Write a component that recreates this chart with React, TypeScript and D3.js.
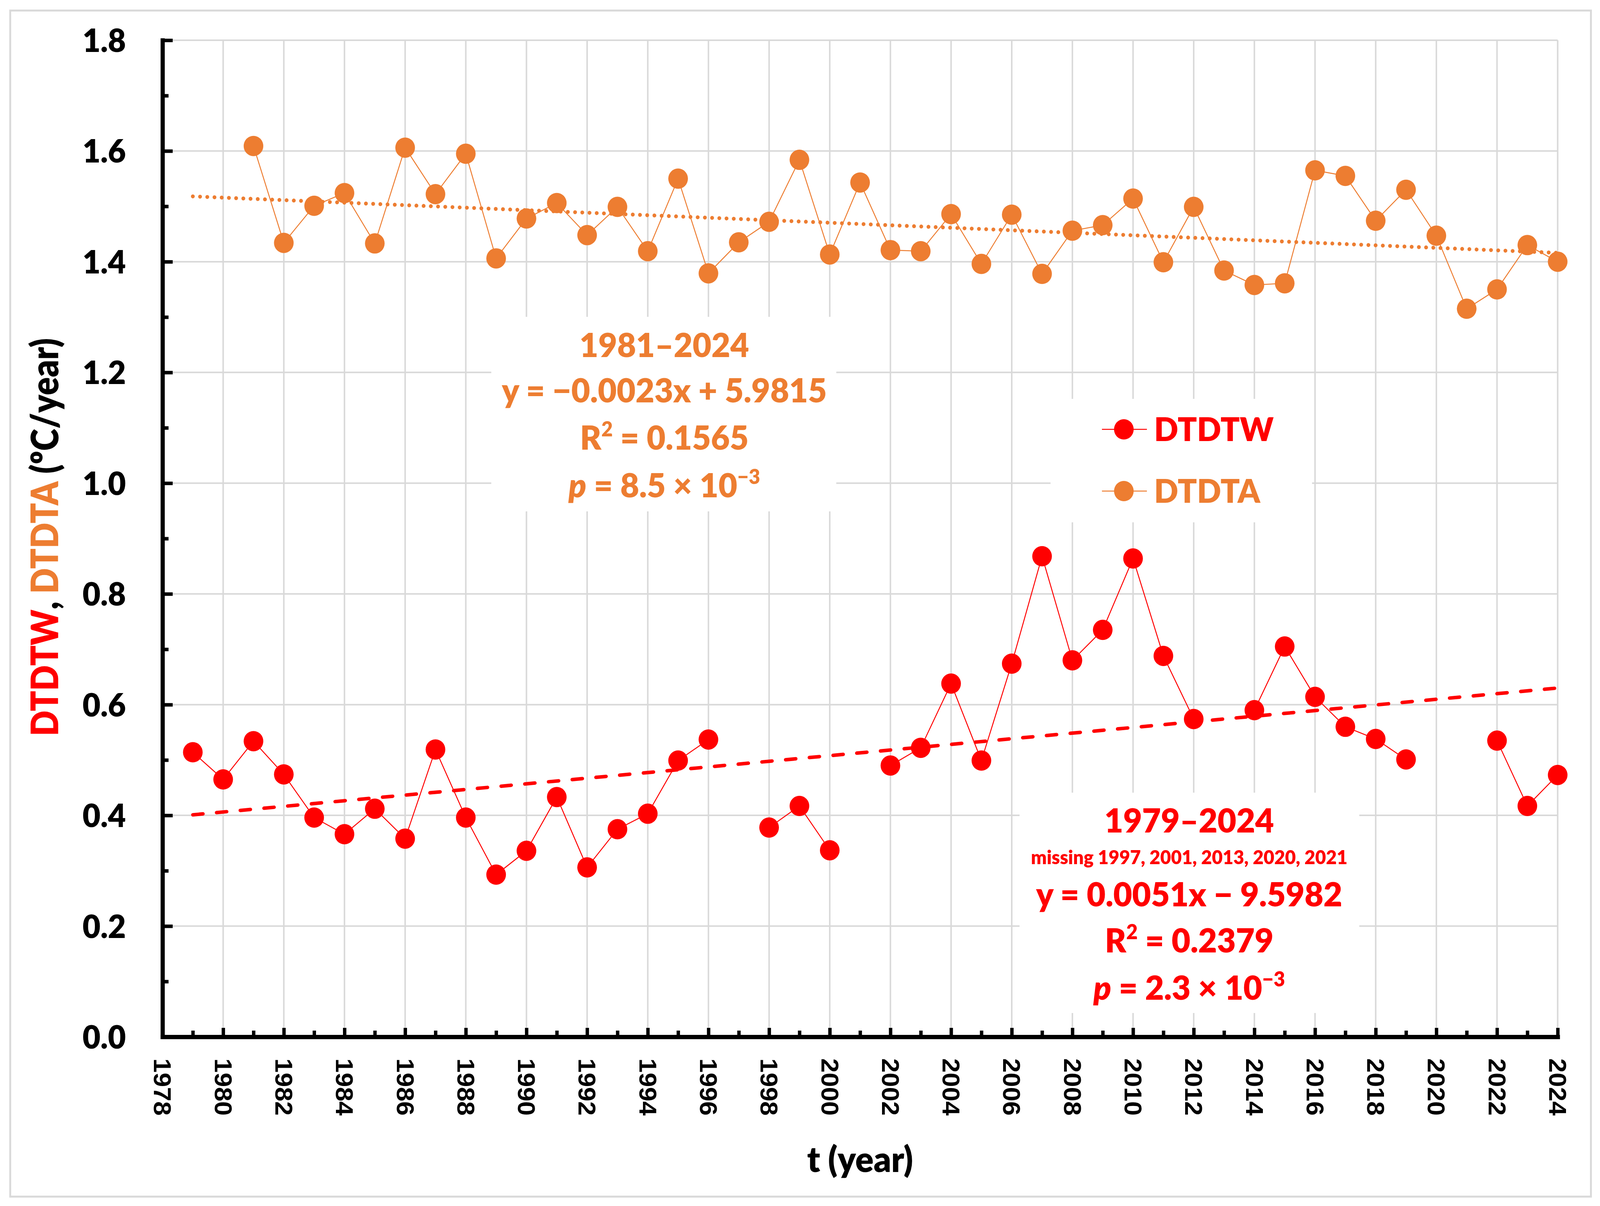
import React, { useEffect, useRef } from 'react';
import * as d3 from 'd3';

// ---- data ----
const years = [
  1979, 1980, 1981, 1982, 1983, 1984, 1985, 1986, 1987, 1988, 1989, 1990,
  1991, 1992, 1993, 1994, 1995, 1996, 1997, 1998, 1999, 2000, 2001, 2002,
  2003, 2004, 2005, 2006, 2007, 2008, 2009, 2010, 2011, 2012, 2013, 2014,
  2015, 2016, 2017, 2018, 2019, 2020, 2021, 2022, 2023, 2024,
];

// DTDTW, missing 1997, 2001, 2013, 2020, 2021
const dtdtw: (number | null)[] = [
  0.514, 0.465, 0.534, 0.474, 0.396, 0.366, 0.412, 0.358, 0.519, 0.396, 0.293, 0.336,
  0.433, 0.306, 0.375, 0.403, 0.499, 0.537, null, 0.378, 0.417, 0.337, null, 0.490,
  0.522, 0.638, 0.499, 0.674, 0.868, 0.680, 0.735, 0.864, 0.688, 0.574, null, 0.590,
  0.705, 0.614, 0.560, 0.538, 0.501, null, null, 0.535, 0.417, 0.473,
];

// DTDTA, starts 1981
const dtdta: (number | null)[] = [
  null, null, 1.609, 1.434, 1.501, 1.524, 1.433, 1.606, 1.522, 1.595, 1.406, 1.478,
  1.506, 1.448, 1.499, 1.419, 1.550, 1.379, 1.435, 1.472, 1.584, 1.413, 1.543, 1.421,
  1.419, 1.486, 1.396, 1.485, 1.378, 1.456, 1.466, 1.514, 1.399, 1.499, 1.384, 1.358,
  1.361, 1.565, 1.555, 1.474, 1.530, 1.447, 1.315, 1.350, 1.430, 1.400,
];

// linear trend end points as drawn
const trendYears = [1979, 2024];
const dtdtwTrend = [0.401, 0.630];
const dtdtaTrend = [1.518, 1.416];

const yTicks = [0, 0.2, 0.4, 0.6, 0.8, 1.0, 1.2, 1.4, 1.6, 1.8];
const yMinorTicks = [0.1, 0.3, 0.5, 0.7, 0.9, 1.1, 1.3, 1.5, 1.7];
const xTicks = [
  1978, 1980, 1982, 1984, 1986, 1988, 1990, 1992, 1994, 1996, 1998, 2000,
  2002, 2004, 2006, 2008, 2010, 2012, 2014, 2016, 2018, 2020, 2022, 2024,
];
const xMinorTicks = [
  1979, 1981, 1983, 1985, 1987, 1989, 1991, 1993, 1995, 1997, 1999, 2001,
  2003, 2005, 2007, 2009, 2011, 2013, 2015, 2017, 2019, 2021, 2023,
];

const seriesNames = ['DTDTW', 'DTDTA'];

const W = 4234;
const H = 3087;
const RED = '#FF0000';
const ORANGE = '#ED7D31';
const GRID = '#D9D9D9';
const FONT = 'Lato, "Noto Sans", sans-serif';
const TICK_FONT = '"Liberation Sans", Arial, sans-serif';
const BOLD = 800;

const App: React.FC = () => {
  const svgRef = useRef<SVGSVGElement>(null);

  useEffect(() => {
    const svg = d3.select(svgRef.current);
    svg.selectAll('*').remove();

    const x = d3.scaleLinear().domain([1978, 2024]).range([430, 4122]);
    const y = d3.scaleLinear().domain([0, 1.8]).range([2654, 103]);
    const [x0, x1] = x.range();
    const [y0, y1] = y.range();

    // background + outer frame
    svg.append('rect').attr('width', W).attr('height', H).attr('fill', '#fff');
    svg.append('rect')
      .attr('x', 27).attr('y', 27)
      .attr('width', 4183).attr('height', 3036)
      .attr('fill', '#fff')
      .attr('stroke', GRID)
      .attr('stroke-width', 5);

    // grid
    const grid = svg.append('g').attr('stroke', GRID).attr('stroke-width', 4);
    grid.selectAll('line.gx')
      .data(xTicks.slice(1))
      .join('line')
      .attr('class', 'gx')
      .attr('x1', d => x(d)).attr('x2', d => x(d))
      .attr('y1', y0).attr('y2', y1);
    grid.selectAll('line.gy')
      .data(yTicks.slice(1))
      .join('line')
      .attr('class', 'gy')
      .attr('x1', x0).attr('x2', x1)
      .attr('y1', d => y(d)).attr('y2', d => y(d));

    // white boxes behind the text blocks and legend
    const boxes = [
      { x: 1300, y: 811, w: 913, h: 498 },
      { x: 2698, y: 2029, w: 899, h: 564 },
      { x: 2780, y: 1021, w: 692, h: 316 },
    ];
    svg.selectAll('rect.box')
      .data(boxes)
      .join('rect')
      .attr('class', 'box')
      .attr('x', d => d.x).attr('y', d => d.y)
      .attr('width', d => d.w).attr('height', d => d.h)
      .attr('fill', '#fff');

    // y axis
    const gyMinor = svg.append('g')
      .attr('transform', `translate(${x0},0)`)
      .call(d3.axisLeft(y).tickValues(yMinorTicks).tickSize(-16).tickFormat(() => ''));
    gyMinor.select('.domain').remove();
    gyMinor.selectAll('.tick line').attr('stroke', '#000').attr('stroke-width', 9);

    const gy = svg.append('g')
      .attr('transform', `translate(${x0},0)`)
      .call(
        d3.axisLeft(y)
          .tickValues(yTicks)
          .tickFormat(d3.format('.1f'))
          .tickSize(-27)
          .tickSizeOuter(0)
          .tickPadding(97)
      );
    gy.select('.domain')
      .attr('stroke', '#000')
      .attr('stroke-width', 11)
      .attr('stroke-linecap', 'square');
    gy.selectAll('.tick line').attr('stroke', '#000').attr('stroke-width', 9);
    gy.selectAll('.tick text')
      .attr('font-family', FONT)
      .attr('font-size', 82)
      .attr('font-weight', BOLD)
      .attr('fill', '#000')
      .attr('dy', '0.36em');

    // x axis
    const gxMinor = svg.append('g')
      .attr('transform', `translate(0,${y0})`)
      .call(d3.axisBottom(x).tickValues(xMinorTicks).tickSize(-16).tickFormat(() => ''));
    gxMinor.select('.domain').remove();
    gxMinor.selectAll('.tick line').attr('stroke', '#000').attr('stroke-width', 9);

    const gx = svg.append('g')
      .attr('transform', `translate(0,${y0})`)
      .call(
        d3.axisBottom(x)
          .tickValues(xTicks)
          .tickFormat(d3.format('d'))
          .tickSize(-23)
          .tickSizeOuter(0)
          .tickPadding(0)
      );
    gx.select('.domain')
      .attr('stroke', '#000')
      .attr('stroke-width', 11)
      .attr('stroke-linecap', 'square');
    gx.selectAll('.tick line').attr('stroke', '#000').attr('stroke-width', 9);
    gx.selectAll('.tick text')
      .attr('y', 0)
      .attr('dy', null)
      .attr('transform', 'translate(0,55) rotate(90)')
      .attr('text-anchor', 'start')
      .attr('dominant-baseline', 'central')
      .attr('font-family', TICK_FONT)
      .attr('font-size', 66)
      .attr('font-weight', 700)
      .attr('fill', '#000');

    // series lines
    const seriesLine = d3.line<number | null>()
      .defined(d => d != null)
      .x((_, i) => x(years[i]))
      .y(d => y(d as number));

    svg.append('path')
      .attr('d', seriesLine(dtdta))
      .attr('fill', 'none')
      .attr('stroke', ORANGE)
      .attr('stroke-width', 2.5);
    svg.append('path')
      .attr('d', seriesLine(dtdtw))
      .attr('fill', 'none')
      .attr('stroke', RED)
      .attr('stroke-width', 2.5);

    // markers
    const pts = (vals: (number | null)[]) =>
      years.map((yr, i) => ({ yr, v: vals[i] })).filter(d => d.v != null) as { yr: number; v: number }[];

    svg.append('g').selectAll('circle')
      .data(pts(dtdta))
      .join('circle')
      .attr('cx', d => x(d.yr))
      .attr('cy', d => y(d.v))
      .attr('r', 26)
      .attr('fill', ORANGE);
    svg.append('g').selectAll('circle')
      .data(pts(dtdtw))
      .join('circle')
      .attr('cx', d => x(d.yr))
      .attr('cy', d => y(d.v))
      .attr('r', 26)
      .attr('fill', RED);

    // trend lines
    const trendLine = d3.line<number>()
      .x((_, i) => x(trendYears[i]))
      .y(d => y(d));
    svg.append('path')
      .attr('d', trendLine(dtdtaTrend))
      .attr('fill', 'none')
      .attr('stroke', ORANGE)
      .attr('stroke-width', 10)
      .attr('stroke-linecap', 'round')
      .attr('stroke-dasharray', '0.1 19');
    svg.append('path')
      .attr('d', trendLine(dtdtwTrend))
      .attr('fill', 'none')
      .attr('stroke', RED)
      .attr('stroke-width', 9)
      .attr('stroke-linecap', 'round')
      .attr('stroke-dasharray', '27 36');

    // legend
    const legendColors = [RED, ORANGE];
    const legendY = [1099, 1257];
    const legend = svg.append('g');
    seriesNames.forEach((name, i) => {
      const row = legend.append('g').attr('transform', `translate(0,${legendY[i]})`);
      row.append('line')
        .attr('x1', 2916).attr('x2', 3035)
        .attr('stroke', legendColors[i])
        .attr('stroke-width', 2.5);
      row.append('circle').attr('cx', 2974).attr('r', 26).attr('fill', legendColors[i]);
      row.append('text')
        .attr('x', 3054)
        .attr('y', 30)
        .attr('font-family', FONT)
        .attr('font-weight', BOLD)
        .attr('font-size', 84)
        .attr('fill', legendColors[i])
        .text(name);
    });

    // regression annotations
    const annot = (cx: number, color: string, range: string, note: string | null, eq: string, r2: string, p: string, ys: number[]) => {
      const g = svg.append('g')
        .attr('fill', color)
        .attr('font-family', FONT)
        .attr('font-weight', BOLD)
        .attr('text-anchor', 'middle');
      let k = 0;
      g.append('text').attr('x', cx).attr('y', ys[k++]).attr('font-size', 86).text(range);
      if (note) g.append('text').attr('x', cx).attr('y', ys[k++]).attr('font-size', 49).text(note);
      g.append('text').attr('x', cx).attr('y', ys[k++]).attr('font-size', 86).text(eq);
      const t2 = g.append('text').attr('x', cx).attr('y', ys[k++]).attr('font-size', 86);
      t2.append('tspan').text('R');
      t2.append('tspan').attr('font-size', 52).attr('dy', -34).text('2');
      t2.append('tspan').attr('dy', 34).text(` = ${r2}`);
      const t3 = g.append('text').attr('x', cx).attr('y', ys[k++]).attr('font-size', 86);
      t3.append('tspan').attr('font-style', 'italic').text('p');
      t3.append('tspan').text(` = ${p} × 10`);
      t3.append('tspan').attr('font-size', 52).attr('dy', -34).text('−3');
    };
    annot(1758, ORANGE, '1981–2024', null, 'y = −0.0023x + 5.9815', '0.1565', '8.5', [914, 1030, 1151, 1273]);
    annot(3147, RED, '1979–2024', 'missing 1997, 2001, 2013, 2020, 2021', 'y = 0.0051x − 9.5982', '0.2379', '2.3', [2131, 2212, 2320, 2438, 2559]);

    // axis titles
    const yTitle = svg.append('text')
      .attr('transform', 'translate(115,1375) rotate(-90) scale(0.86,1)')
      .attr('text-anchor', 'middle')
      .attr('dominant-baseline', 'central')
      .attr('font-family', FONT)
      .attr('font-weight', BOLD)
      .attr('font-size', 100);
    yTitle.append('tspan').attr('fill', RED).text('DTDTW');
    yTitle.append('tspan').attr('fill', '#000').text(', ');
    yTitle.append('tspan').attr('fill', ORANGE).text('DTDTA');
    yTitle.append('tspan').attr('fill', '#000').text(' (ºC/year)');

    svg.append('text')
      .attr('x', (x0 + x1) / 2)
      .attr('y', 3000)
      .attr('text-anchor', 'middle')
      .attr('font-family', FONT)
      .attr('font-weight', BOLD)
      .attr('font-size', 90)
      .attr('fill', '#000')
      .text('t (year)');
  }, []);

  return (
    <svg
      ref={svgRef}
      viewBox={`0 0 ${W} ${H}`}
      preserveAspectRatio="none"
      style={{ position: 'fixed', left: 0, top: 0, width: '100vw', height: '100vh', display: 'block' }}
    />
  );
};

export default App;
